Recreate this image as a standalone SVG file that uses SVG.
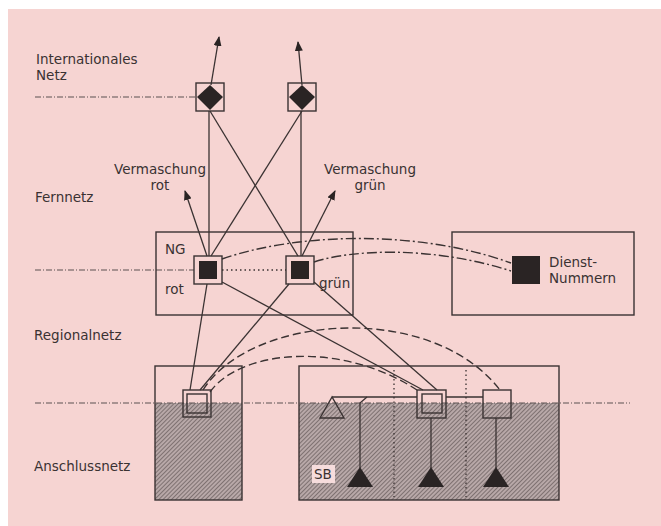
<svg xmlns="http://www.w3.org/2000/svg" width="661" height="526" viewBox="0 0 661 526">
<style>
text{font-family:"DejaVu Sans","Liberation Sans",sans-serif;font-size:13.5px;fill:#3a3232}
.c{text-anchor:middle}
.ln{stroke:#3a3232;stroke-width:1.3;fill:none}
.box{stroke:#3a3232;stroke-width:1.4;fill:none}
.lvl{stroke:#5a5050;stroke-width:1;fill:none;stroke-dasharray:6 2 1 2}
.dd{stroke:#3a3232;stroke-width:1.4;fill:none;stroke-dasharray:10 3 2 3}
.da{stroke:#3a3232;stroke-width:1.4;fill:none;stroke-dasharray:8 4}
.dot{stroke:#3a3232;stroke-width:1.3;fill:none;stroke-dasharray:1.5 3}
.blk{fill:#2a2424}
</style>
<defs>
<pattern id="hatch" width="3" height="3" patternUnits="userSpaceOnUse" patternTransform="rotate(45)">
<rect width="3" height="3" fill="#b8a8a8"/>
<line x1="0" y1="0" x2="0" y2="3" stroke="#574c4c" stroke-width="1.2"/>
</pattern>
<marker id="arr" markerWidth="10" markerHeight="8" refX="9" refY="4" orient="auto" markerUnits="userSpaceOnUse">
<path d="M0,0 L10,4 L0,8 Z" fill="#2a2424"/>
</marker>
</defs>
<rect x="0" y="0" width="661" height="526" fill="#ffffff"/>
<rect x="8" y="9" width="653" height="517" fill="#f6d4d2"/>

<g id="levels">
<path class="lvl" d="M35,97 H196"/>
<path class="lvl" d="M35,270 H194"/>
<text x="36" y="64">Internationales<tspan x="36" y="80">Netz</tspan></text>
<text x="35" y="202">Fernnetz</text>
<text x="34" y="340">Regionalnetz</text>
<text x="34" y="471">Anschlussnetz</text>
</g>

<g id="label-rot">
<text class="c" x="160" y="174">Vermaschung<tspan x="160" y="190">rot</tspan></text>
</g>
<g id="label-gruen">
<text class="c" x="370" y="174">Vermaschung<tspan x="370" y="190">grün</tspan></text>
</g>

<g id="anschluss-links">
<rect x="155" y="403" width="87" height="97" fill="url(#hatch)"/>
<rect class="box" x="155" y="366" width="87" height="134"/>
</g>
<g id="anschluss-rechts">
<rect x="299" y="403" width="260" height="97" fill="url(#hatch)"/>
<rect class="box" x="299" y="366" width="260" height="134"/>
<path class="dot" d="M394,370 V497 M466,370 V497"/>
<rect x="312" y="465" width="23" height="18" fill="#f6dcdc"/>
<text x="314" y="479" font-size="13">SB</text>
</g>
<path class="lvl" d="M35,403 H630"/>

<g id="ng-box">
<rect class="box" x="156" y="232" width="197" height="83"/>
<text x="165" y="254">NG</text>
<text x="165" y="294">rot</text>
<text x="319" y="288">grün</text>
</g>
<g id="dienst-box">
<rect class="box" x="452" y="232" width="182" height="83"/>
<rect class="blk" x="512" y="256" width="28" height="28"/>
<text x="549" y="267">Dienst-<tspan x="549" y="283">Nummern</tspan></text>
</g>

<g id="connectors">
<path class="ln" d="M211,85 L219,37" marker-end="url(#arr)"/>
<path class="ln" d="M302,85 L298,42" marker-end="url(#arr)"/>
<path class="ln" d="M209,111 V256"/>
<path class="ln" d="M301,111 V256"/>
<path class="ln" d="M210,111 L298,256"/>
<path class="ln" d="M302,111 L211,256"/>
<path class="ln" d="M207,256 L185,191" marker-end="url(#arr)"/>
<path class="ln" d="M302,256 L335,191" marker-end="url(#arr)"/>
<path class="dot" d="M222,270 H286"/>
<path class="dd" d="M222,259 C300,232 420,230 511,263"/>
<path class="dd" d="M314,262 C350,250 430,245 511,271"/>
<path class="ln" d="M207,284 L190,390"/>
<path class="ln" d="M289,284 L200,390"/>
<path class="ln" d="M222,282 L423,390"/>
<path class="ln" d="M314,282 L437,390"/>
<path class="da" d="M203,390 C250,315 430,300 500,390"/>
<path class="da" d="M210,392 C240,350 340,340 417,390"/>
<path class="ln" d="M332,397 H417 M446,397 H483"/>
<path class="ln" d="M367,397 L360,403 V468"/>
<path class="ln" d="M431,418 V468"/>
<path class="ln" d="M496,418 V468"/>
</g>

<g id="int-rot">
<rect class="box" x="196" y="83" width="28" height="28"/>
<path class="blk" d="M210,85 L223,97 L210,110 L197,97 Z"/>
</g>
<g id="int-gruen">
<rect class="box" x="288" y="83" width="28" height="28"/>
<path class="blk" d="M302,85 L315,97 L302,110 L289,97 Z"/>
</g>
<g id="ng-rot">
<rect class="box" x="194" y="256" width="28" height="28" fill="#f6d4d2"/>
<rect class="blk" x="199" y="261" width="18" height="18"/>
</g>
<g id="ng-gruen">
<rect class="box" x="286" y="256" width="28" height="28" fill="#f6d4d2"/>
<rect class="blk" x="291" y="261" width="18" height="18"/>
</g>
<g id="vst-links">
<rect class="box" x="183" y="390" width="28" height="27"/>
<rect class="box" x="187" y="394" width="20" height="19"/>
</g>
<g id="vst-mitte">
<rect class="box" x="417" y="390" width="29" height="28"/>
<rect class="box" x="422" y="394" width="20" height="19"/>
</g>
<g id="vst-rechts">
<rect class="box" x="483" y="390" width="28" height="28"/>
</g>
<g id="tln-offen">
<path class="box" d="M332,397 L320,418 L344,418 Z"/>
</g>
<g id="tln-1"><path class="blk" d="M360,467 L347,487 L373,487 Z"/></g>
<g id="tln-2"><path class="blk" d="M431,467 L418,487 L444,487 Z"/></g>
<g id="tln-3"><path class="blk" d="M496,467 L483,487 L509,487 Z"/></g>
</svg>
